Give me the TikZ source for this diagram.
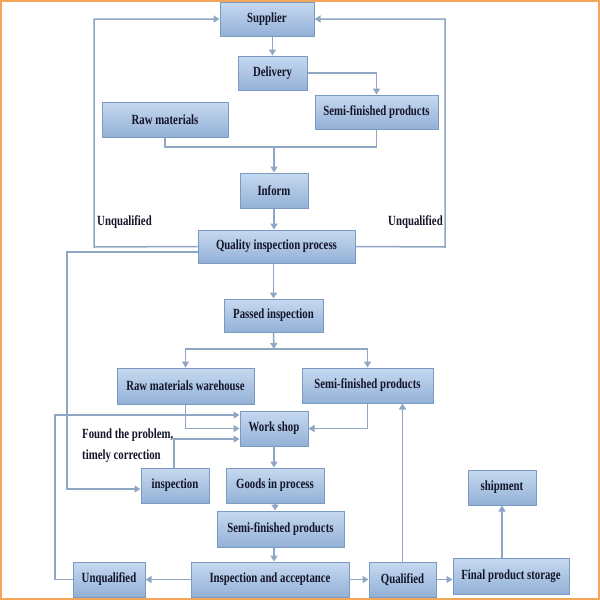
\documentclass[tikz,border=0pt]{standalone}
\usepackage{fontspec}
\setmainfont{Liberation Serif}[FakeStretch=0.77]
\usetikzlibrary{arrows.meta}
\definecolor{lineblue}{HTML}{8FA7C4}
\definecolor{boxtop}{HTML}{C6D9F0}
\definecolor{boxbot}{HTML}{93B1D7}
\definecolor{boxedge}{HTML}{7B9AC1}
\definecolor{txt}{HTML}{15152A}
\definecolor{frameorange}{HTML}{F2A65A}
\tikzset{
  box/.style={draw=boxedge, line width=1pt, top color=boxtop, bottom color=boxbot,
    inner sep=0pt, text=txt, font=\bfseries\fontsize{14}{16}\selectfont},
  conn/.style={draw=lineblue, line width=1.5pt},
  arr/.style={conn, -{Triangle[length=6pt,width=7pt]}},
  lbl/.style={text=txt, font=\bfseries\fontsize{14}{16}\selectfont, inner sep=0pt}
}
\begin{document}
\begin{tikzpicture}[x=1pt,y=-1pt]
\useasboundingbox (0,0) rectangle (600,600);
\fill[white] (0,0) rectangle (600,600);
\draw[frameorange, line width=2pt] (1,1) rectangle (599,599);

% nodes
\node[box, minimum width=94pt, minimum height=34pt] (sup) at (267,19) {Supplier};
\node[box, minimum width=69pt, minimum height=34pt] (del) at (272.5,73) {Delivery};
\node[box, minimum width=123pt, minimum height=34pt] (semi1) at (376.5,112) {Semi-finished products};
\node[box, minimum width=126pt, minimum height=35pt] (raw) at (165,119.5) {Raw materials};
\node[box, minimum width=68pt, minimum height=35pt] (inf) at (274,190.5) {Inform};
\node[box, minimum width=157pt, minimum height=33pt] (qip) at (276.5,246.5) {Quality inspection process};
\node[box, minimum width=99pt, minimum height=33pt] (pass) at (273.5,315.5) {Passed inspection};
\node[box, minimum width=137pt, minimum height=36pt] (rawwh) at (185.5,386) {Raw materials warehouse};
\node[box, minimum width=131pt, minimum height=35pt] (semi2) at (367.5,385.5) {Semi-finished products};
\node[box, minimum width=68pt, minimum height=35pt] (ws) at (274,428.5) {Work shop};
\node[box, minimum width=68pt, minimum height=35pt] (insp) at (175,485.5) {inspection};
\node[box, minimum width=98pt, minimum height=35pt] (goods) at (275,485.5) {Goods in process};
\node[box, minimum width=127pt, minimum height=36pt] (semi3) at (280.5,529) {Semi-finished products};
\node[box, minimum width=72pt, minimum height=35pt] (unq) at (109,579.5) {Unqualified};
\node[box, minimum width=158pt, minimum height=35pt] (ia) at (270,579.5) {Inspection and acceptance};
\node[box, minimum width=67pt, minimum height=35pt] (qual) at (402.5,579.5) {Qualified};
\node[box, minimum width=116pt, minimum height=36pt] (fin) at (511,576) {Final product storage};
\node[box, minimum width=68pt, minimum height=35pt] (ship) at (502,487.5) {shipment};

% labels
\node[lbl] (ul) at (124.5,222) {Unqualified};
\node[lbl] (ur) at (415.5,222) {Unqualified};
\node[lbl, anchor=west, align=left, font=\bfseries\fontsize{14}{21}\selectfont] (found) at (82,445.5) {Found the problem,\\timely correction};

% coordinates
\coordinate (j1) at (274,147);
\coordinate (lu) at (94,247);
\coordinate (ru) at (445,247);
\coordinate (la) at (67,252);
\coordinate (lb) at (67,489);
\coordinate (ps) at (274,349);
\coordinate (wa) at (55,415);
\coordinate (wb) at (174,439);

% connectors
\draw[arr] (del.north |- sup.south) -- (del.north);
\draw[arr] (del.east) -| (semi1.north);
\draw[conn] (raw.south) |- (semi1.south |- j1) -- (semi1.south);
\draw[arr] (j1) -- (inf.north);
\draw[arr] (inf.south) -- (inf.south |- qip.north);
\draw[arr] (qip.west) -- (lu) |- (sup.west);
\draw[arr] (qip.east) -- (ru) |- (sup.east);
\draw[arr] (qip.west |- la) -- (la) -- (lb) -- (insp.west |- lb);
\draw[arr] (pass.north |- qip.south) -- (pass.north);
\draw[arr] (pass.south) -- (ps);
\draw[arr] (ps) -| (rawwh.north);
\draw[arr] (ps) -| (semi2.north);
\draw[arr] (rawwh.south) |- (ws.west);
\draw[arr] (semi2.south) |- (ws.east);
\draw[arr] (unq.west) -| (wa) -- (ws.west |- wa);
\draw[arr] (insp.north -| wb) -- (wb) -- (ws.west |- wb);
\draw[arr] (ws.south) -- (ws.south |- goods.north);
\draw[arr] (goods.south) -- (goods.south |- semi3.north);
\draw[arr] (semi3.south -| ws) -- (ia.north -| ws);
\draw[arr] (ia.west) -- (unq.east);
\draw[arr] (ia.east) -- (qual.west);
\draw[arr] (qual.east) -- (qual.east -| fin.west);
\draw[arr] (ship.south |- fin.north) -- (ship.south);
\draw[arr] (qual.north) -- (qual.north |- semi2.south);
\end{tikzpicture}
\end{document}
